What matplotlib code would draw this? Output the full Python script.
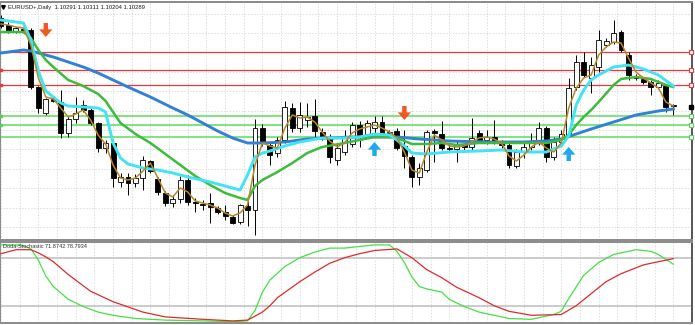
import numpy as np
import matplotlib.pyplot as plt

plt.rcParams['font.family'] = ['Liberation Sans', 'DejaVu Sans']

# EURUSD+ daily bars, oldest first
opens = [1.1117, 1.1110, 1.1103, 1.1106, 1.1105, 1.1048, 1.1022, 1.1036, 1.1033, 1.1002,
         1.1016, 1.1030, 1.1025, 1.1012, 1.0987, 1.0992, 1.0953, 1.0958, 1.0952, 1.0957,
         1.0974, 1.0956, 1.0942, 1.0932, 1.0936, 1.0955, 1.0933, 1.0931, 1.0932, 1.0927,
         1.0923, 1.0918, 1.0913, 1.0929, 1.0925, 1.1007, 1.0990, 1.0982, 1.0995, 1.1027,
         1.1007, 1.1015, 1.1019, 1.1003, 1.0998, 1.0975, 1.0983, 1.0991, 1.1010, 1.1001,
         1.1007, 1.1013, 1.1002, 1.1004, 1.0989, 1.0978, 1.0958, 1.0965, 1.1004, 1.1001,
         1.0987, 1.0986, 1.0990, 1.0988, 1.1002, 1.0995, 1.0998, 1.0993, 1.0990, 1.0969,
         1.0983, 1.0988, 1.0993, 1.1007, 1.0978, 1.0993, 1.1000, 1.1048, 1.1073, 1.1057,
         1.1068, 1.1090, 1.1093, 1.1103, 1.1080, 1.1059, 1.1056, 1.1053, 1.1048, 1.1049,
         1.10291]
highs = [1.1120, 1.1113, 1.1108, 1.1107, 1.1107, 1.1049, 1.1037, 1.1037, 1.1045, 1.1019,
         1.1038, 1.1035, 1.1027, 1.1013, 1.0995, 1.0994, 1.0962, 1.0962, 1.0961, 1.0979,
         1.0975, 1.0958, 1.0944, 1.0940, 1.0959, 1.0960, 1.0937, 1.0935, 1.0942, 1.0929,
         1.0930, 1.0920, 1.0931, 1.0935, 1.1016, 1.1011, 1.0993, 1.0998, 1.1034, 1.1032,
         1.1033, 1.1032, 1.1036, 1.1007, 1.1001, 1.0991, 1.1005, 1.1013, 1.1014, 1.1015,
         1.1019, 1.1019, 1.1005, 1.1007, 1.1005, 1.0980, 1.0972, 1.1005, 1.1006, 1.1014,
         1.0992, 1.0995, 1.0992, 1.1017, 1.1005, 1.1005, 1.1015, 1.0995, 1.0993, 1.0986,
         1.0994, 1.1002, 1.1013, 1.1009, 1.0998, 1.1005, 1.1057, 1.1080, 1.1083, 1.1078,
         1.1105, 1.1097, 1.1115, 1.1105, 1.1083, 1.1061, 1.1058, 1.1055, 1.1055, 1.1051,
         1.10311]
lows = [1.1107, 1.1102, 1.1102, 1.1104, 1.1046, 1.1022, 1.1020, 1.1033, 1.0997, 1.0998,
        1.1012, 1.1023, 1.1010, 1.0983, 1.0982, 1.0948, 1.0948, 1.0940, 1.0948, 1.0945,
        1.0962, 1.0940, 1.0929, 1.0928, 1.0932, 1.0930, 1.0923, 1.0925, 1.0912, 1.0921,
        1.0915, 1.0911, 1.0911, 1.0909, 1.0900, 1.0989, 1.0970, 1.0978, 1.0992, 1.1003,
        1.1003, 1.1008, 1.0998, 1.0995, 1.0972, 1.0970, 1.0980, 1.0988, 1.0988, 1.0998,
        1.1002, 1.0998, 1.1000, 1.0985, 1.0967, 1.0948, 1.0950, 1.0963, 1.0973, 1.0985,
        1.0983, 1.0973, 1.0985, 1.0985, 1.0993, 1.0991, 1.0991, 1.0987, 1.0967, 1.0967,
        1.0977, 1.0985, 1.0990, 1.0973, 1.0975, 1.0990, 1.0998, 1.1045, 1.1058, 1.1042,
        1.1063, 1.1088, 1.1091, 1.1083, 1.1055, 1.1055, 1.1051, 1.1040, 1.1046, 1.1023,
        1.10204]
closes = [1.1109, 1.1103, 1.1107, 1.1105, 1.1048, 1.1027, 1.1036, 1.1034, 1.1002, 1.1016,
          1.1022, 1.1025, 1.1012, 1.0987, 1.0992, 1.0957, 1.0958, 1.0952, 1.0957, 1.0975,
          1.0964, 1.0943, 1.0932, 1.0936, 1.0955, 1.0933, 1.0932, 1.0930, 1.0928, 1.0923,
          1.0919, 1.0912, 1.0930, 1.0925, 1.1007, 1.0993, 1.0980, 1.0995, 1.1028, 1.1007,
          1.1020, 1.1018, 1.1004, 1.0998, 1.0978, 1.0987, 1.0998, 1.1010, 1.1000, 1.1012,
          1.1013, 1.1002, 1.1003, 1.0987, 1.0979, 1.0958, 1.0967, 1.1003, 1.1002, 1.0987,
          1.0986, 1.0990, 1.0988, 1.0997, 1.0995, 1.0998, 1.0994, 1.0990, 1.0970, 1.0983,
          1.0988, 1.0993, 1.1007, 1.0978, 1.0993, 1.1001, 1.1047, 1.1073, 1.1060, 1.1070,
          1.1095, 1.1094, 1.1102, 1.1085, 1.1060, 1.1057, 1.1053, 1.1048, 1.1052, 1.1028,
          1.10289]

# fast MA (one value per bar)
ma_fast = [1.1111, 1.1110, 1.1108, 1.1107, 1.1090, 1.1057, 1.1038, 1.1036, 1.1027, 1.1018,
           1.1021, 1.1025, 1.1015, 1.1000, 1.0991, 1.0970, 1.0957, 1.0955, 1.0957, 1.0964,
           1.0972, 1.0957, 1.0942, 1.0938, 1.0947, 1.0943, 1.0934, 1.0932, 1.0930, 1.0927,
           1.0922, 1.0919, 1.0922, 1.0930, 1.0970, 1.0992, 1.0989, 1.0987, 1.1007, 1.1020,
           1.1017, 1.1018, 1.1013, 1.1003, 1.0994, 1.0988, 1.0992, 1.1002, 1.1006, 1.1008,
           1.1010, 1.1007, 1.1003, 1.0997, 1.0983, 1.0965, 1.0962, 1.0983, 1.1000, 1.0995,
           1.0989, 1.0988, 1.0989, 1.0993, 1.0997, 1.0998, 1.0996, 1.0992, 1.0979, 1.0974,
           1.0980, 1.0988, 1.0993, 1.0987, 1.0983, 1.0992, 1.1027, 1.1047, 1.1057, 1.1060,
           1.1080, 1.1088, 1.1093, 1.1092, 1.1077, 1.1063, 1.1057, 1.1052, 1.1047, 1.1033,
           1.1029]

# slower MAs, read at selected bars
cyan_idx = [0, 3, 4, 5, 6, 7, 8, 9, 11, 13, 14, 15, 16, 17, 19, 21, 23, 25, 28, 31, 32, 33,
            34, 35, 36, 38, 40, 43, 46, 48, 50, 52, 53, 54, 55, 57, 60, 64, 67, 70, 73, 75,
            76, 77, 78, 79, 80, 82, 84, 86, 88, 90]
cyan_ma = [1.1115, 1.1112, 1.1095, 1.1064, 1.1044, 1.1038, 1.1032, 1.1029, 1.1028, 1.1027,
           1.1023, 1.0992, 1.0977, 1.0971, 1.0967, 1.0965, 1.0962, 1.0958, 1.0953, 1.0947,
           1.0945, 1.0960, 1.0978, 1.0982, 1.0984, 1.0989, 1.0993, 1.0997, 1.0997, 1.0998,
           1.1001, 1.1000, 1.0995, 1.0989, 1.0982, 1.0981, 1.0983, 1.0984, 1.0985, 1.0983,
           1.0983, 1.0989, 1.0999, 1.1030, 1.1045, 1.1055, 1.1060, 1.1068, 1.1070, 1.1066,
           1.1060, 1.1049]

green_idx = [0, 3, 4, 5, 6, 7, 9, 11, 13, 14, 16, 18, 20, 22, 24, 26, 28, 30, 32, 33, 34,
             35, 37, 39, 41, 43, 46, 48, 50, 52, 53, 54, 55, 57, 59, 61, 64, 70, 73, 75, 76,
             77, 78, 79, 80, 82, 83, 85, 87, 89, 90]
green_ma = [1.1103, 1.1103, 1.1097, 1.1085, 1.1075, 1.1068, 1.1055, 1.1049, 1.1041, 1.1034,
            1.1012, 1.1001, 1.0992, 1.0981, 1.0970, 1.0959, 1.0950, 1.0942, 1.0937, 1.0935,
            1.0949, 1.0955, 1.0963, 1.0972, 1.0982, 1.0988, 1.0992, 1.0995, 1.0998, 1.0998,
            1.0997, 1.0994, 1.0991, 1.0991, 1.0992, 1.0990, 1.0992, 1.0992, 1.0992, 1.0995,
            1.1000, 1.1010, 1.1018, 1.1025, 1.1033, 1.1050, 1.1056, 1.1058, 1.1056, 1.1050,
            1.1048]

blue_idx = [0, 3, 4, 7, 9, 11, 13, 15, 17, 20, 23, 25, 27, 29, 31, 33, 35, 38, 41, 44, 47,
            50, 53, 56, 60, 65, 70, 73, 75, 77, 79, 82, 85, 88, 90]
blue_ma = [1.1082, 1.1085, 1.1084, 1.1078, 1.1073, 1.1068, 1.1062, 1.1055, 1.1048, 1.1038,
           1.1027, 1.1020, 1.1012, 1.1004, 1.0997, 1.0992, 1.0992, 1.0993, 1.0996, 1.0997,
           1.0998, 1.0998, 1.0998, 1.0996, 1.0994, 1.0993, 1.0993, 1.0994, 1.0996, 1.1001,
           1.1006, 1.1013, 1.1020, 1.1024, 1.1026]

# horizontal levels
resistance = [1.1083, 1.1065, 1.1050]
support = [1.1019, 1.10095, 1.0998]

# signal arrows: bar index and price at arrow tip
sell_idx = [6, 54]
sell_tip = [1.1098, 1.1015]
buy_idx = [50, 76]
buy_tip = [1.0993, 1.0988]

# Doda-Stochastic
stoch_idx = [0, 2, 3, 4, 5, 6, 7, 9, 11, 13, 15, 18, 22, 27, 31, 33, 34, 35, 36, 38, 40, 42,
             44, 46, 48, 50, 52, 53, 54, 55, 56, 57, 59, 60, 62, 64, 68, 71, 72, 74, 75, 76,
             78, 80, 82, 85, 87, 88, 90]
stoch_main = [96, 96, 95, 91, 77, 57, 44, 28, 19, 12, 8, 4, 2, 1, 0, 1, 14, 37, 52, 69, 80,
              87, 92, 92, 94, 96, 96, 88, 74, 56, 44, 41, 37, 28, 19, 12, 4, 3, 5, 9, 13, 29,
              58, 74, 84, 90, 88, 84, 71.87]
signal_idx = [0, 2, 4, 5, 6, 7, 9, 12, 15, 19, 22, 27, 31, 33, 35, 36, 37, 40, 42, 44, 46,
              48, 50, 53, 55, 57, 59, 61, 64, 66, 68, 71, 75, 77, 79, 81, 83, 86, 88, 90]
stoch_signal = [85, 90, 90, 86, 81, 75, 59, 38, 25, 12, 6, 3, 1, 2, 12, 20, 30, 50, 62, 73,
                80, 85, 89, 91, 80, 65, 55, 43, 30, 20, 13, 8, 9, 20, 35, 50, 60, 71, 75, 78.79]

W, H = 695, 325
fig = plt.figure(figsize=(W / 100, H / 100), dpi=100)
ax = fig.add_axes([0, 85 / H, 692 / W, 238 / H])
ax2 = fig.add_axes([0, 2.5 / H, 692 / W, 81 / H])

x = np.arange(len(opens))
o = np.array(opens)
c = np.array(closes)
up = c >= o
body_lo = np.minimum(o, c)
body_h = np.maximum(np.abs(c - o), 0.00008)

grid_kw = dict(color='#d6d6d6', lw=0.55, linestyle=(0, (2, 2)))
for a in (ax, ax2):
    a.set_xlim(-0.133, 92.13)
    a.set_xticks(np.arange(0, 93, 2.5))
    a.tick_params(length=0, labelbottom=False, labelleft=False)
    a.grid(axis='x', **grid_kw)
    a.set_axisbelow(True)
    for s in a.spines.values():
        s.set_color('#8a8a8a')
        s.set_linewidth(1.4)
    a.spines['right'].set_color('#555555')

ax.set_ylim(1.0895, 1.1133)
ax.set_yticks(np.arange(1.0908, 1.1130, 0.00194))
ax.grid(axis='y', **grid_kw)

# levels
for lv in resistance:
    ax.axhline(lv, color='#e8383c', lw=0.9, zorder=2)
for lv in support:
    ax.axhline(lv, color='#7ee37e', lw=1.4, zorder=2)
edge = 692.6 / 7.5
ax.plot([edge] * 3, resistance, 's', ms=2.4, mfc='white', mec='#e8383c', mew=0.8,
        clip_on=False, zorder=7)
ax.plot([edge] * 3, support, 's', ms=2.4, mfc='white', mec='#5ad05a', mew=0.8,
        clip_on=False, zorder=7)
ax.plot([-0.05] * 2, resistance[1:], 's', ms=2, color='#e8383c', clip_on=False, zorder=7)
ax.plot([-0.05] * 2, support[:2], 's', ms=2, color='#5ad05a', clip_on=False, zorder=7)
ax.plot([edge], [closes[-2]], 's', ms=2.6, color='black', clip_on=False, zorder=7)

# candles
ax.vlines(x, lows, highs, color='black', lw=0.7, zorder=3)
ax.bar(x[up], body_h[up], bottom=body_lo[up], width=0.66, color='white',
       edgecolor='black', lw=0.6, zorder=3)
ax.bar(x[~up], body_h[~up], bottom=body_lo[~up], width=0.66, color='black',
       edgecolor='black', lw=0.6, zorder=3)

# moving averages
ax.plot(blue_idx, blue_ma, color='#3380d6', lw=2.1, zorder=4)
ax.plot(green_idx, green_ma, color='#3dbb3d', lw=1.8, zorder=4)
ax.plot(cyan_idx, cyan_ma, color='#40e4f2', lw=2.1, zorder=4)
ax.plot(x, ma_fast, color='#b8862b', lw=1.1, zorder=5)

# arrows
alen = 0.0014
for i, tip in zip(sell_idx, sell_tip):
    ax.annotate('', xy=(i, tip), xytext=(i, tip + alen),
                arrowprops=dict(facecolor='#ef5a22', edgecolor='none', width=3.2,
                                headwidth=9.5, headlength=5.5, shrink=0), zorder=6)
for i, tip in zip(buy_idx, buy_tip):
    ax.annotate('', xy=(i, tip), xytext=(i, tip - alen),
                arrowprops=dict(facecolor='#1fa8ee', edgecolor='none', width=3.2,
                                headwidth=9.5, headlength=5.5, shrink=0), zorder=6)

fig.text(8 / W, 1 - 7.5 / H, 'EURUSD+,Daily  1.10291 1.10311 1.10204 1.10289',
         fontsize=4.2, color='#1a1a1a', va='center', ha='left')
fig.lines.append(plt.Line2D([3.5 / W], [1 - 7 / H], marker='v', ms=2.6, color='black',
                            transform=fig.transFigure))

# stochastic panel
ax2.set_ylim(-1, 100.25)
ax2.axhline(80, color='#c2c2c2', lw=1.2, zorder=1)
ax2.axhline(20, color='#c2c2c2', lw=1.2, zorder=1)
ax2.plot(stoch_idx, stoch_main, color='#44e044', lw=0.9, zorder=3)
ax2.plot(signal_idx, stoch_signal, color='#e02a2a', lw=0.9, zorder=3)
ax2.text(3 / 7.5 - 0.133, 94, 'Doda-Stochastic 71.8742 78.7934', fontsize=4.0,
         color='#303030', va='center', ha='left', zorder=5)

fig.savefig('out.png', dpi=100)
